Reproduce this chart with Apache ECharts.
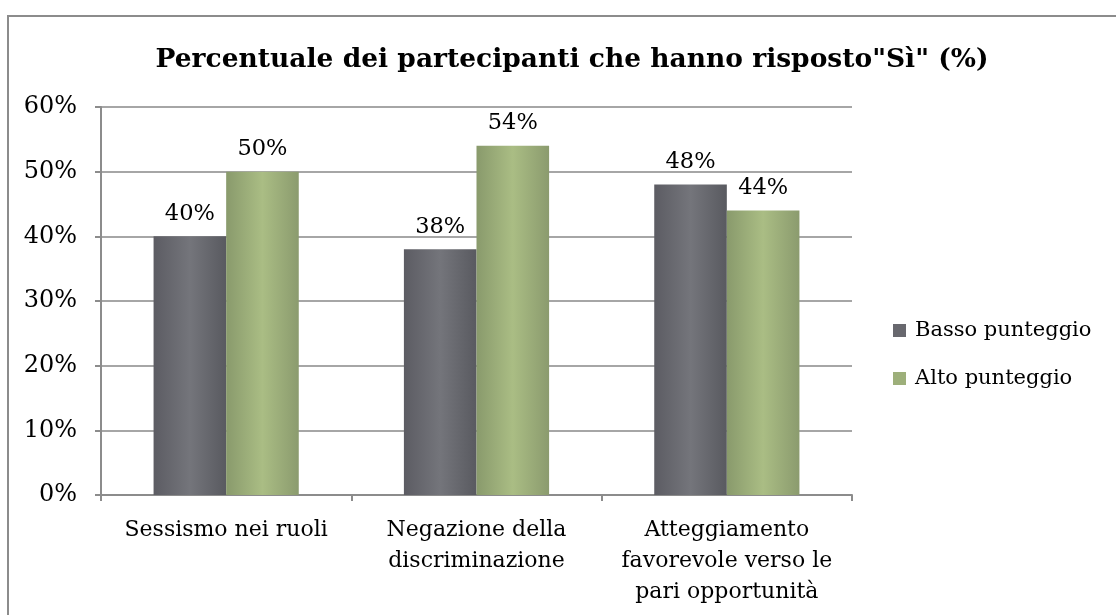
<!DOCTYPE html>
<html>
<head>
<meta charset="utf-8">
<script src="https://cdn.jsdelivr.net/npm/echarts@6/dist/echarts.min.js"></script>
<style>html,body{margin:0;padding:0;background:#fff}#c{width:1116px;height:615px}</style>
</head>
<body>
<div id="c"></div>
<script>
const categories = ["Sessismo nei ruoli", "Negazione della\ndiscriminazione", "Atteggiamento\nfavorevole verso le\npari opportunità"];
const seriesNames = ["Basso punteggio", "Alto punteggio"];
const basso = [40, 38, 48];
const alto = [50, 54, 44];
const yTicks = [0, 10, 20, 30, 40, 50, 60];
const titleText = 'Percentuale dei partecipanti che hanno risposto"Sì" (%)';

const FONT = '"DejaVu Serif", serif';
function grayG() {
  return new echarts.graphic.LinearGradient(0, 0, 1, 0, [
    {offset: 0, color: '#5c5c63'}, {offset: 0.5, color: '#74757b'}, {offset: 1, color: '#595a60'}
  ]);
}
function greenG() {
  return new echarts.graphic.LinearGradient(0, 0, 1, 0, [
    {offset: 0, color: '#899a6c'}, {offset: 0.5, color: '#aabd84'}, {offset: 1, color: '#8b9b6e'}
  ]);
}

const chart = echarts.init(document.getElementById('c'), null, {renderer: 'canvas'});
chart.setOption({
  animation: false,
  backgroundColor: '#fff',
  title: {
    text: titleText, left: 567, top: 42, textAlign: 'center',
    textStyle: {fontFamily: FONT, fontWeight: 'bold', fontSize: 26.5, color: '#000'}
  },
  graphic: [{
    type: 'rect', shape: {x: 8, y: 16, width: 1200, height: 700},
    style: {fill: 'none', stroke: '#8c8c8c', lineWidth: 2}, silent: true, z: -1
  }],
  legend: {
    orient: 'vertical', left: 888, top: 315, itemGap: 27,
    itemWidth: 13, itemHeight: 13, icon: 'rect',
    textStyle: {fontFamily: FONT, fontSize: 21, color: '#000', padding: [0, 0, 0, 4]},
    data: [
      {name: seriesNames[0], itemStyle: {color: '#68686e'}},
      {name: seriesNames[1], itemStyle: {color: '#9daf7a'}}
    ]
  },
  grid: {left: 101, right: 264, top: 107, bottom: 120, containLabel: false},
  xAxis: {
    type: 'category', data: categories,
    axisLine: {show: true, lineStyle: {color: '#8c8c8c', width: 2}},
    axisTick: {show: true, length: 6, lineStyle: {color: '#8c8c8c', width: 2}},
    axisLabel: {fontFamily: FONT, fontSize: 22, color: '#000', margin: 20, lineHeight: 31, interval: 0}
  },
  yAxis: {
    type: 'value', min: 0, max: 60, interval: 10,
    axisLine: {show: true, lineStyle: {color: '#8c8c8c', width: 2}},
    axisTick: {show: true, length: 6, lineStyle: {color: '#8c8c8c', width: 2}},
    splitLine: {show: true, lineStyle: {color: '#a6a6a6', width: 2}},
    axisLabel: {fontFamily: FONT, fontSize: 24, color: '#000', margin: 24,
      formatter: v => yTicks.includes(v) ? v + '%' : ''}
  },
  series: [
    {name: seriesNames[0], type: 'bar', data: basso, barGap: '0%', barCategoryGap: '42%',
     itemStyle: {color: grayG()},
     label: {show: true, position: 'top', distance: 11, formatter: p => p.value + '%',
       fontFamily: FONT, fontSize: 22.5, color: '#000'}},
    {name: seriesNames[1], type: 'bar', data: alto, barGap: '0%', barCategoryGap: '42%',
     itemStyle: {color: greenG()},
     label: {show: true, position: 'top', distance: 11, formatter: p => p.value + '%',
       fontFamily: FONT, fontSize: 22.5, color: '#000'}}
  ]
});
</script>
</body>
</html>
